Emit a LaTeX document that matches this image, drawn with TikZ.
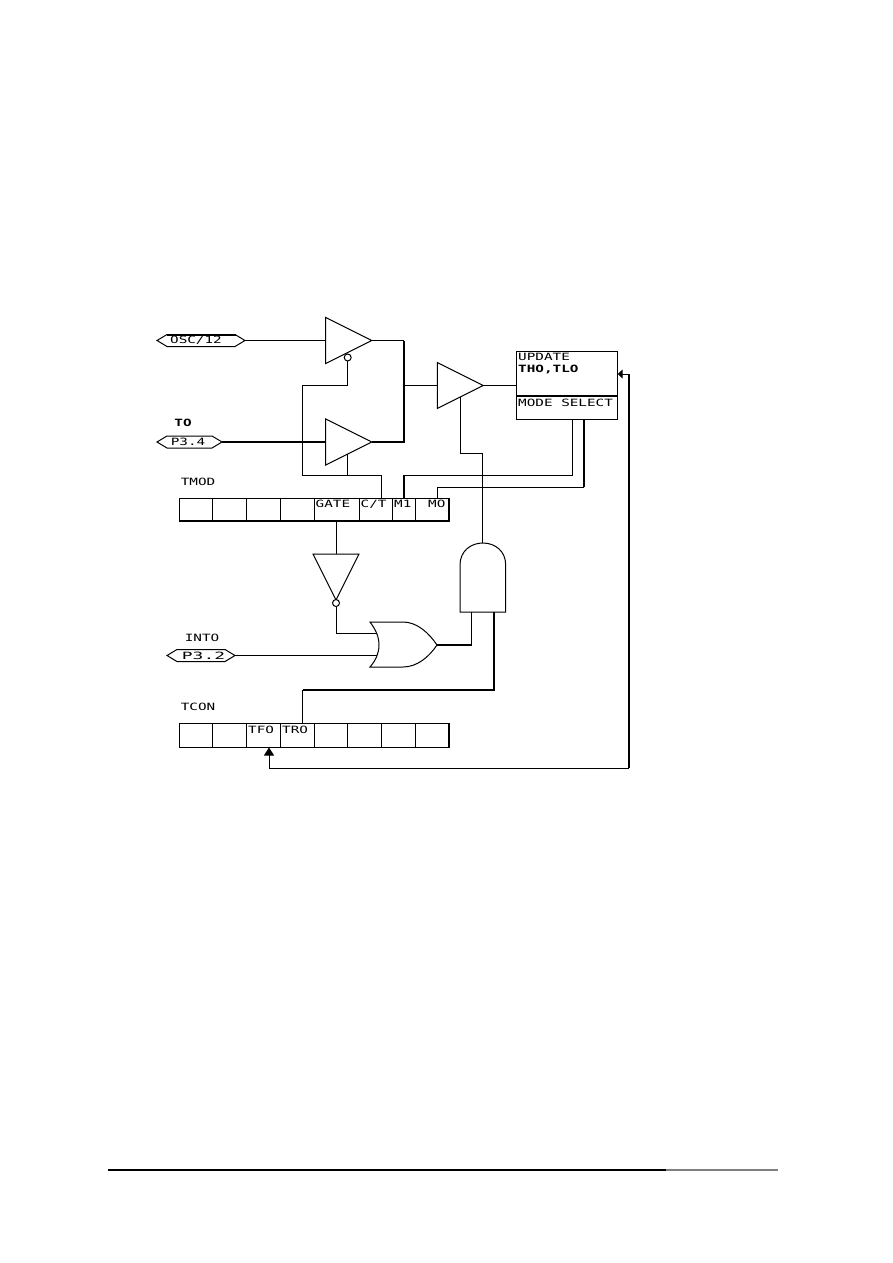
\documentclass[tikz,border=0pt]{standalone}
\usepackage{fontspec}
\usetikzlibrary{shapes.geometric,shapes.symbols,arrows.meta}
\newfontfamily\plotfont[FakeStretch=1.43]{DejaVu Sans Mono}
\tikzset{
  wire/.style={draw,line width=1pt},
  bus/.style={draw,line width=2pt},
  lbl/.style={inner sep=0pt,font=\plotfont\fontsize{10}{12}\selectfont},
  cell/.style={draw,line width=1pt,anchor=north west,minimum height=#1,inner sep=0pt,outer sep=0pt},
  buffer/.style={draw,line width=1pt,isosceles triangle,isosceles triangle stretches,inner sep=0pt,outer sep=0pt,minimum height=46pt,minimum width=46pt},
  pintag/.style={draw,line width=1pt,signal,signal to=west and east,signal pointer angle=62,inner sep=0pt,outer sep=0pt,minimum height=12pt,font=\plotfont\fontsize{10}{12}\selectfont},
  bubble/.style={draw,line width=1pt,circle,fill=white,minimum size=7pt,inner sep=0pt,outer sep=0pt}
}
\begin{document}
\begin{tikzpicture}[x=1pt,y=-1pt,>=stealth]
\useasboundingbox (0,0) rectangle (893,1263);
% port tags
\node[pintag,minimum width=88pt] (osc) at (201,340.5) {\hspace{-10pt}OSC/12};
\node[pintag,minimum width=65pt] (p34) at (189.5,442) {\hspace{-3pt}P3.4};
\node[pintag,minimum width=66pt] (p32) at (201,655.5) {\hspace{5pt}\scalebox{1.25}[1]{P3.2}};
\coordinate (osctopl) at (167,334.5);
\coordinate (osctopr) at (236,334.5);
\draw[bus] (osctopl) -- (osctopr);
\node[lbl] (t0name) at (183,423) {\bfseries TO};
\node[lbl] (int0name) at (202,638) {INTO};
\node[lbl] (tmodname) at (198,482) {TMOD};
\node[lbl] (tconname) at (198,707) {TCON};
% gates
\node[buffer,anchor=lower side] (buf1) at (325.7,340.5) {};
\node[buffer,anchor=lower side] (buf2) at (325.7,442) {};
\node[buffer,anchor=lower side] (buf3) at (437.3,385.5) {};
\node[buffer,anchor=lower side,shape border rotate=270] (inv) at (336,554) {};
\node[bubble] (bub1) at (347.7,357.5) {};
\node[bubble] (bub2) at (336,603) {};
% AND gate
\coordinate (andbl) at (460,612);
\coordinate (andbr) at (505.7,612);
\coordinate (andtop) at (482.8,543);
\draw[wire] (andbl) -- (460,565) .. controls (460,551) and (471,543) .. (andtop)
  .. controls (495,543) and (505.7,551) .. (505.7,565) -- (andbr) -- cycle;
% OR gate
\coordinate (ortop) at (370,622);
\coordinate (orbot) at (370,667);
\coordinate (orout) at (437,645);
\draw[wire] (ortop) .. controls (376,630) and (379,637) .. (379,645)
  .. controls (379,653) and (376,660) .. (orbot) -- (403,667)
  .. controls (417,667) and (429,657) .. (orout)
  .. controls (429,633) and (417,622) .. (403,622) -- cycle;
% update box
\node[draw,line width=1pt,anchor=north west,minimum width=101.4pt,minimum height=67.6pt,inner sep=0pt,outer sep=0pt] (box) at (516.3,351.7) {};
\coordinate (boxdivl) at (516.3,396.3);
\coordinate (boxdivr) at (617.7,396.3);
\draw[bus] (boxdivl) -- (boxdivr);
\node[lbl,anchor=west] (update) at (518,357) {UPDATE};
\node[lbl,anchor=west] (thtl) at (518,369) {\bfseries THO,TLO};
\node[lbl,anchor=west] (modesel) at (518,403) {MODE SELECT};
% TMOD register
\foreach \name/\xa/\w in {m1/179/33,m2/212/34.7,m3/246.7/34,m4/280.7/33.3,gate/314/45,ct/359/33,mone/392/23,mzero/415/34.3}
  \node[cell=23pt,minimum width=\w pt] (\name) at (\xa,498) {};
\foreach \name/\xa/\txt in {gate/315.5/GATE,ct/360.5/C\slash T,mone/394/M1,mzero/428/MO}
  \node[lbl,anchor=west] (\name txt) at (\xa,504) {\txt};
\coordinate (tmodbl) at (179,521);
\coordinate (tmodbr) at (449.3,521);
\coordinate (tmodtr) at (449.3,498);
\draw[bus] (tmodbl) -- (tmodbr) -- (tmodtr);
% TCON register
\foreach \name/\xa/\w in {c1/179/33,c2/212/34.7,tf/246.7/33.3,tr/280/34,c5/314/33,c6/347/34,c7/381/34,c8/415/34}
  \node[cell=24pt,minimum width=\w pt] (\name) at (\xa,723) {};
\node[lbl,anchor=west] (tftxt) at (248,729.5) {TFO};
\node[lbl,anchor=west] (trtxt) at (282,729.5) {TRO};
\coordinate (tcontr) at (449,723);
\coordinate (tconbr) at (449,747);
\draw[bus] (tcontr) -- (tconbr);
% clock and gating wires
\coordinate (mux) at (404,340.5);
\coordinate (muxb) at (404,442);
\coordinate (muxm) at (404,385.5);
\draw[wire] (osc.east) -- (buf1.lower side);
\draw[bus] (p34.east) -- (buf2.lower side);
\draw[wire] (buf1.apex) -- (mux);
\draw[bus] (buf2.apex) -- (muxb) -- (mux);
\draw[wire] (muxm) -- (buf3.lower side);
\draw[wire] (buf3.apex) -- (box.west |- buf3.apex);
% C/T select
\coordinate (ctla) at (302.5,385);
\coordinate (ctlb) at (302.5,475);
\coordinate (ctlc) at (381,475);
\coordinate (ctpin) at (381,498);
\coordinate (buf2ctl) at (347.7,454);
\coordinate (buf2low) at (347.7,475);
\draw[wire] (bub1.south) |- (ctla) -- (ctlb) -- (ctlc) -- (ctpin);
\draw[wire] (buf2ctl) -- (buf2low);
% mode select
\coordinate (mosta) at (572.7,419.3);
\coordinate (mostb) at (572.7,475);
\coordinate (mostc) at (404,475);
\coordinate (mostd) at (404,498);
\coordinate (moa) at (584,419.3);
\coordinate (mob) at (584,487);
\coordinate (moc) at (437.3,487);
\coordinate (mod) at (437.3,498);
\draw[wire] (mosta) -- (mostb) -- (mostc);
\draw[bus] (mostc) -- (mostd);
\draw[bus] (moa) -- (mob);
\draw[wire] (mob) -- (moc) -- (mod);
% interrupt gating
\coordinate (gatepin) at (336,521);
\draw[wire] (gatepin) -- (inv.lower side);
\coordinate (orina) at (336,633);
\coordinate (orinb) at (376.7,633);
\coordinate (orinc) at (376.7,655.5);
\draw[wire] (bub2.south) -- (orina) -- (orinb);
\draw[wire] (p32.east) -- (orinc);
\coordinate (andina) at (471.7,645);
\coordinate (andinb) at (471.7,612);
\draw[bus] (orout) -- (andina);
\draw[wire] (andina) -- (andinb);
\coordinate (andup) at (482.8,453);
\coordinate (andupl) at (460.7,453);
\coordinate (buf3ctl) at (460.7,397);
\draw[wire] (andtop) -- (andup) -- (andupl) -- (buf3ctl);
% run bit
\coordinate (runa) at (494,612);
\coordinate (runb) at (494,690);
\coordinate (runc) at (302.7,690);
\coordinate (rund) at (302.7,723);
\draw[bus] (runa) -- (runb) -- (runc);
\draw[wire] (runc) -- (rund);
% overflow flag
\coordinate (ovfa) at (617.7,374);
\coordinate (ovfb) at (629,374);
\coordinate (ovfc) at (629,768);
\coordinate (ovfd) at (269,768);
\coordinate (ovfe) at (269,747.5);
\draw[wire,-{Triangle[length=5pt,width=9pt]}] (ovfb) -- (ovfa);
\draw[bus] (ovfb) -- (ovfc);
\draw[wire,-{Triangle[length=8pt,width=10pt]}] (ovfc) -- (ovfd) -- (ovfe);
% page rule
\coordinate (rulea) at (108,1170);
\coordinate (rulem) at (666,1170);
\coordinate (ruleb) at (778,1170);
\draw[line width=1.5pt] (rulea) -- (rulem);
\draw[line width=1.5pt,gray] (rulem) -- (ruleb);
\end{tikzpicture}
\end{document}
